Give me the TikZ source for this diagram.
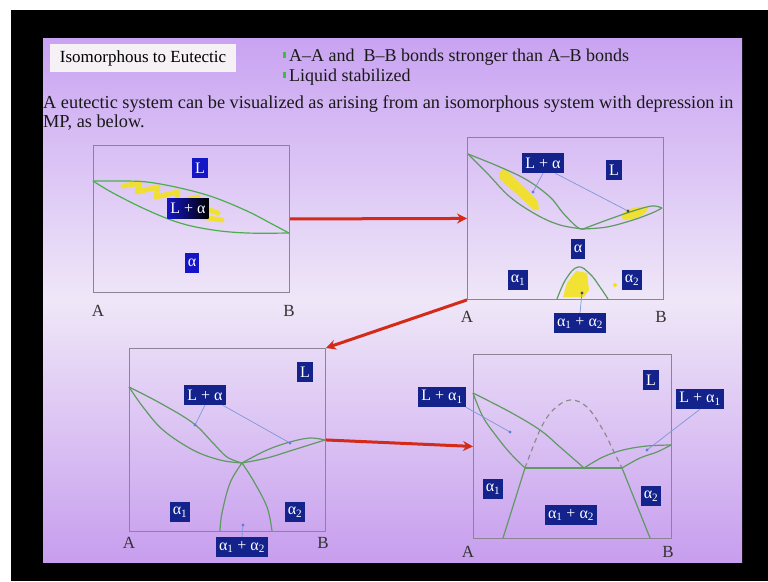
\documentclass[tikz,border=0pt]{standalone}
\usepackage{fontspec}
\setmainfont{Liberation Serif}
\usetikzlibrary{arrows.meta}
\definecolor{slidetop}{HTML}{C9A3F2}
\definecolor{slidemid}{HTML}{EFE7F8}
\definecolor{slidebot}{HTML}{C79EEE}
\definecolor{navyb}{HTML}{14238C}
\definecolor{brightb}{HTML}{1515C8}
\definecolor{cgreen}{HTML}{5E9A62}
\definecolor{framegray}{HTML}{8C8494}
\definecolor{leadblue}{HTML}{7C98D8}
\definecolor{arrred}{HTML}{D42A18}
\definecolor{hiyellow}{HTML}{F2E21E}
\definecolor{bulgreen}{HTML}{3CC03C}
\definecolor{titlebox}{HTML}{F6F1F4}
\begin{document}
\begin{tikzpicture}[x=1pt,y=-1pt,
  lbl/.style={fill=navyb, text=white, inner xsep=3pt, inner ysep=0pt, minimum height=20pt, font=\fontsize{16}{16}\selectfont},
  blbl/.style={lbl, fill=brightb},
  curve/.style={draw=cgreen, line width=1.2pt},
  frame/.style={draw=framegray, line width=0.9pt, minimum width=#1, anchor=north west, inner sep=0pt},
  leader/.style={draw=leadblue, line width=0.7pt},
  ldot/.style={fill=leadblue!80!blue},
  bigarrow/.style={draw=arrred, line width=3pt, -{Stealth[length=10pt,width=10pt]}},
  axl/.style={font=\fontsize{17}{17}\selectfont, text=black!80},
  hilite/.style={draw=hiyellow, line width=5pt, line join=round, line cap=round, opacity=0.9},
  bodytxt/.style={anchor=base west, inner sep=0pt, font=\fontsize{18.3}{19}\selectfont, text=black!90}
]
\useasboundingbox (0,0) rectangle (768,581);
\fill[white] (0,0) rectangle (768,581);
\fill[black] (11,10) rectangle (768,581);
\shade[top color=slidetop, bottom color=slidebot, middle color=slidemid] (43,38) rectangle (742,562);

% header
\node[fill=titlebox, minimum width=186pt, minimum height=28pt, inner sep=0pt, font=\fontsize{17}{17}\selectfont] (title) at (143,58) {Isomorphous to Eutectic};
\fill[bulgreen] (283,52) rectangle (286,58);
\fill[bulgreen] (283,72) rectangle (286,78);
\node[bodytxt, font=\fontsize{18}{18}\selectfont] (b1) at (289,61) {A–A and \ B–B bonds stronger than A–B bonds};
\node[bodytxt, font=\fontsize{18}{18}\selectfont] (b2) at (289,81) {Liquid stabilized};
\node[bodytxt] (t1) at (43,108) {A eutectic system can be visualized as arising from an isomorphous system with depression in};
\node[bodytxt] (t2) at (43,127) {MP, as below.};

% ---------- diagram 1 ----------
\node[frame=196pt, minimum height=147pt] (d1) at (93,145) {};
\draw[hilite] (123,186) -- (140,183) -- (137,192) -- (158,187) -- (156,197) -- (178,192) -- (176,202) -- (198,197);
\draw[hilite] (200,217) -- (222,220);
\draw[hilite] (207,209) -- (218,213);
\draw[curve, draw=cgreen!80!green] plot[smooth, tension=0.6] coordinates {(93,181) (120,181) (147,182) (180,188) (213,197) (247,211) (272,224) (289,233)};
\draw[curve, draw=cgreen!80!green] plot[smooth, tension=0.6] coordinates {(93,181) (113,193) (147,210) (180,223) (213,230) (247,233) (289,233)};
\node[blbl] (l1L) at (200,168) {L};
\node[lbl, left color=brightb, right color=black] (l1La) at (188,208) {L + α};
\node[blbl] (l1a) at (192,263) {α};
\node[axl] (A1) at (98,311) {A};
\node[axl] (B1) at (289,311) {B};

% ---------- diagram 2 ----------
\node[frame=196pt, minimum height=162pt] (d2) at (467,137) {};
\fill[hiyellow, opacity=0.9] (499,172) -- (505,169) -- (538,201) -- (539,210) -- (534,210) -- (500,179) -- cycle;
\fill[hiyellow, opacity=0.9] (621,214) .. controls (630,207) and (643,205) .. (648,208) .. controls (646,215) and (635,220) .. (623,220) -- cycle;
\fill[hiyellow, opacity=0.9] (563,297) -- (567,283) -- (576,271) -- (587,273) -- (589,290) -- (584,297) -- cycle;
\fill[hiyellow] (615,285) circle (2pt);
\draw[curve] plot[smooth, tension=0.6] coordinates {(468,154) (500,167) (527,180) (550,197) (563,213) (577,227) (583,229)};
\draw[curve] plot[smooth, tension=0.6] coordinates {(468,154) (487,173) (510,197) (537,215) (560,225) (583,229)};
\draw[curve] plot[smooth, tension=0.6] coordinates {(583,229) (607,220) (633,211) (652,206) (662,208)};
\draw[curve] plot[smooth, tension=0.6] coordinates {(583,229) (607,227) (633,220) (652,213) (662,208)};
\draw[curve] plot[smooth, tension=0.7] coordinates {(557,299) (566,279) (578,267) (590,274) (600,287) (608,299)};
\node[lbl] (l2La) at (543,163) {L + α};
\node[lbl] (l2L) at (614,170) {L};
\node[lbl] (l2a) at (578,249) {α};
\node[lbl] (l2a1) at (518,280) {α\textsubscript{1}};
\node[lbl] (l2a2) at (632,280) {α\textsubscript{2}};
\node[lbl] (l2aa) at (580,323) {α\textsubscript{1} + α\textsubscript{2}};
\coordinate (p2a) at (533,192);
\coordinate (p2b) at (628,211);
\coordinate (p2c) at (582,293);
\draw[leader] (l2La.south) -- (p2a);
\draw[leader] (l2La.-40) -- (p2b);
\draw[leader] (l2aa.north) -- (p2c);
\fill[ldot] (p2a) circle (1.6pt);
\fill[black!70] (p2b) circle (1.6pt);
\fill[black!70] (p2c) circle (1.6pt);
\node[axl] (A2) at (467,317) {A};
\node[axl] (B2) at (661,317) {B};

% ---------- diagram 3 ----------
\node[frame=196pt, minimum height=183pt] (d3) at (129,348) {};
\draw[curve] plot[smooth, tension=0.6] coordinates {(129,387) (160,403) (193,423) (213,443) (227,457) (242,463)};
\draw[curve] plot[smooth, tension=0.6] coordinates {(129,387) (143,407) (163,430) (193,450) (220,460) (242,463)};
\draw[curve] plot[smooth, tension=0.6] coordinates {(242,463) (267,450) (290,442) (310,438) (325,440)};
\draw[curve] plot[smooth, tension=0.6] coordinates {(242,463) (267,458) (293,450) (325,440)};
\draw[curve] plot[smooth, tension=0.6] coordinates {(242,463) (230,483) (222,513) (220,531)};
\draw[curve] plot[smooth, tension=0.6] coordinates {(242,463) (253,480) (267,507) (272,531)};
\node[lbl] (l3L) at (305,372) {L};
\node[lbl] (l3La) at (205,395) {L + α};
\node[lbl] (l3a1) at (180,512) {α\textsubscript{1}};
\node[lbl] (l3a2) at (295,512) {α\textsubscript{2}};
\node[lbl] (l3aa) at (242,547) {α\textsubscript{1} + α\textsubscript{2}};
\coordinate (p3a) at (195,425);
\coordinate (p3b) at (290,443);
\coordinate (p3c) at (243,525);
\draw[leader] (l3La.south) -- (p3a);
\draw[leader] (l3La.-30) -- (p3b);
\draw[leader] (l3aa.north) -- (p3c);
\fill[ldot] (p3a) circle (1.6pt);
\fill[ldot] (p3b) circle (1.6pt);
\fill[ldot] (p3c) circle (1.6pt);
\node[axl] (A3) at (129,543) {A};
\node[axl] (B3) at (323,543) {B};

% ---------- diagram 4 ----------
\node[frame=198pt, minimum height=184pt] (d4) at (473,354) {};
\draw[draw=black!45, line width=1.2pt, dash pattern=on 5pt off 4pt] plot[smooth, tension=0.6] coordinates {(525,468) (540,430) (553,410) (570,400) (587,407) (603,430) (613,450) (622,468)};
\draw[curve] plot[smooth, tension=0.6] coordinates {(473,393) (510,412) (540,430) (560,447) (584,468)};
\draw[curve] plot[smooth, tension=0.6] coordinates {(473,393) (483,417) (497,437) (510,453) (525,468)};
\draw[curve] plot[smooth, tension=0.6] coordinates {(584,468) (603,457) (623,450) (647,446) (671,445)};
\draw[curve] plot[smooth, tension=0.6] coordinates {(622,468) (640,458) (657,452) (671,445)};
\draw[curve] (525,468) -- (622,468);
\draw[curve] (525,468) -- (503,538);
\draw[curve] (622,468) -- (650,538);
\node[lbl] (l4L) at (651,380) {L};
\node[lbl] (l4La) at (442,397) {L + α\textsubscript{1}};
\node[lbl] (l4Lb) at (700,399) {L + α\textsubscript{1}};
\node[lbl] (l4a1) at (493,489) {α\textsubscript{1}};
\node[lbl] (l4a2) at (651,496) {α\textsubscript{2}};
\node[lbl] (l4aa) at (571,515) {α\textsubscript{1} + α\textsubscript{2}};
\coordinate (p4a) at (510,432);
\coordinate (p4b) at (647,450);
\draw[leader] (l4La.south east) -- (p4a);
\draw[leader] (l4Lb.south) -- (p4b);
\fill[ldot] (p4a) circle (1.6pt);
\fill[ldot] (p4b) circle (1.6pt);
\node[axl] (A4) at (468,552) {A};
\node[axl] (B4) at (668,552) {B};

% ---------- arrows ----------
\draw[bigarrow] (d1.east) -- (d2.west);
\draw[bigarrow] (d2.south west) -- (d3.north east);
\draw[bigarrow] (d3.east) -- (d4.west);
\end{tikzpicture}
\end{document}
